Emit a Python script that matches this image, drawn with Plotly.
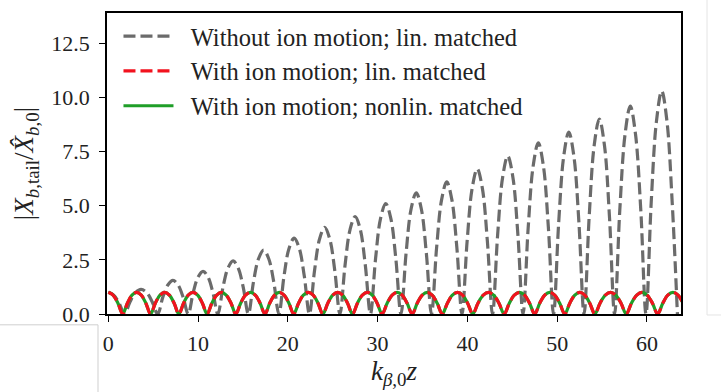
import plotly.graph_objects as go

# Tail centroid amplitude |X_b,tail / X_b,0| versus normalized propagation distance k_beta,0 z

# Without ion motion, linearly matched beam (growing oscillation)
gray_z = [0.0, 0.6, 1.2, 1.8,
          2.42, 3.03, 3.65, 4.27, 4.88, 5.5,
          6.07, 6.63, 7.2, 7.77, 8.33, 8.9,
          9.45, 10.0, 10.55, 11.1, 11.65, 12.2,
          12.77, 13.33, 13.9, 14.47, 15.03, 15.6,
          16.17, 16.73, 17.3, 17.87, 18.43, 19.0,
          19.57, 20.13, 20.7, 21.27, 21.83, 22.4,
          22.97, 23.53, 24.1, 24.67, 25.23, 25.8,
          26.37, 26.93, 27.5, 28.07, 28.63, 29.2,
          29.77, 30.33, 30.9, 31.47, 32.03, 32.6,
          33.17, 33.73, 34.3, 34.87, 35.43, 36.0,
          36.57, 37.13, 37.7, 38.27, 38.83, 39.4,
          39.97, 40.53, 41.1, 41.67, 42.23, 42.8,
          43.37, 43.93, 44.5, 45.07, 45.63, 46.2,
          46.77, 47.33, 47.9, 48.47, 49.03, 49.6,
          50.17, 50.73, 51.3, 51.87, 52.43, 53.0,
          53.57, 54.13, 54.7, 55.27, 55.83, 56.4,
          56.98, 57.57, 58.15, 58.73, 59.32, 59.9,
          60.48, 61.07, 61.65, 62.23, 62.82, 63.4]
gray_y = [1.0, 0.87, 0.5, 0.0,
          0.57, 0.99, 1.14, 0.99, 0.57, 0.0,
          0.78, 1.34, 1.55, 1.34, 0.78, 0.0,
          0.99, 1.71, 1.97, 1.71, 0.99, 0.0,
          1.23, 2.12, 2.45, 2.12, 1.23, 0.0,
          1.48, 2.55, 2.95, 2.55, 1.48, 0.0,
          1.75, 3.03, 3.5, 3.03, 1.75, 0.0,
          2.0, 3.46, 4.0, 3.46, 2.0, 0.0,
          2.25, 3.9, 4.5, 3.9, 2.25, 0.0,
          2.55, 4.42, 5.1, 4.42, 2.55, 0.0,
          2.8, 4.85, 5.6, 4.85, 2.8, 0.0,
          3.05, 5.28, 6.1, 5.28, 3.05, 0.0,
          3.35, 5.8, 6.7, 5.8, 3.35, 0.0,
          3.65, 6.32, 7.3, 6.32, 3.65, 0.0,
          3.95, 6.84, 7.9, 6.84, 3.95, 0.0,
          4.2, 7.27, 8.4, 7.27, 4.2, 0.0,
          4.5, 7.79, 9.0, 7.79, 4.5, 0.0,
          4.8, 8.31, 9.6, 8.31, 4.8, 0.0,
          5.15, 8.92, 10.3, 8.92, 5.15, 0.0]

# With ion motion (linearly and nonlinearly matched curves coincide)
ion_z = [0.0, 0.53, 1.07, 1.6,
         2.12, 2.63, 3.15, 3.67, 4.18, 4.7,
         5.23, 5.75, 6.28, 6.8, 7.33, 7.85,
         8.38, 8.9, 9.43, 9.95, 10.48, 11.0,
         11.53, 12.07, 12.6, 13.13, 13.67, 14.2,
         14.74, 15.28, 15.83, 16.37, 16.91, 17.45,
         17.98, 18.52, 19.05, 19.58, 20.12, 20.65,
         21.19, 21.73, 22.28, 22.82, 23.36, 23.9,
         24.45, 25.0, 25.55, 26.1, 26.65, 27.2,
         27.75, 28.3, 28.85, 29.4, 29.95, 30.5,
         31.06, 31.62, 32.18, 32.73, 33.29, 33.85,
         34.41, 34.97, 35.53, 36.08, 36.64, 37.2,
         37.77, 38.33, 38.9, 39.47, 40.03, 40.6,
         41.18, 41.77, 42.35, 42.93, 43.52, 44.1,
         44.67, 45.23, 45.8, 46.37, 46.93, 47.5,
         48.06, 48.62, 49.18, 49.73, 50.29, 50.85,
         51.41, 51.97, 52.53, 53.08, 53.64, 54.2,
         54.78, 55.37, 55.95, 56.53, 57.12, 57.7,
         58.28, 58.87, 59.45, 60.03, 60.62, 61.2,
         61.77, 62.33, 62.9, 63.47, 64.03, 64.6]
lin_y = [1.0, 0.87, 0.5, 0.0,
         0.5, 0.87, 1.0, 0.87, 0.5, 0.0,
         0.5, 0.87, 1.0, 0.87, 0.5, 0.0,
         0.5, 0.87, 1.0, 0.87, 0.5, 0.0,
         0.5, 0.87, 1.0, 0.87, 0.5, 0.0,
         0.5, 0.87, 1.0, 0.87, 0.5, 0.0,
         0.5, 0.87, 1.0, 0.87, 0.5, 0.0,
         0.5, 0.87, 1.0, 0.87, 0.5, 0.0,
         0.5, 0.87, 1.0, 0.87, 0.5, 0.0,
         0.5, 0.87, 1.0, 0.87, 0.5, 0.0,
         0.5, 0.87, 1.0, 0.87, 0.5, 0.0,
         0.5, 0.87, 1.0, 0.87, 0.5, 0.0,
         0.5, 0.87, 1.0, 0.87, 0.5, 0.0,
         0.5, 0.87, 1.0, 0.87, 0.5, 0.0,
         0.5, 0.87, 1.0, 0.87, 0.5, 0.0,
         0.5, 0.87, 1.0, 0.87, 0.5, 0.0,
         0.5, 0.87, 1.0, 0.87, 0.5, 0.0,
         0.5, 0.87, 1.0, 0.87, 0.5, 0.0,
         0.5, 0.87, 1.0, 0.87, 0.5, 0.0,
         0.5, 0.87, 1.0, 0.87, 0.5, 0.0]
nonlin_y = list(lin_y)

x_ticks = [0, 10, 20, 30, 40, 50, 60]
y_ticks = [0.0, 2.5, 5.0, 7.5, 10.0, 12.5]

labels = ["Without ion motion; lin. matched",
          "With ion motion; lin. matched",
          "With ion motion; nonlin. matched"]

W, H = 721, 392
ML, MR, MT, MB = 107, 40, 11, 75
FONT = "Liberation Serif"
FS = 22          # tick labels
FS_LEG = 24.5    # legend entries
FS_TITLE = 27    # axis titles
INK = "#222"
PAD = "\u00a0\u00a0"

fig = go.Figure()
fig.add_trace(go.Scatter(
    x=gray_z, y=gray_y, mode="lines", name=PAD + labels[0], legendrank=1,
    line=dict(color="#6b6b6b", width=3.2, dash="12px,5px", shape="spline")))
fig.add_trace(go.Scatter(
    x=ion_z, y=nonlin_y, mode="lines", name=PAD + labels[2], legendrank=3,
    line=dict(color="#1f9e28", width=3.2, shape="spline")))
fig.add_trace(go.Scatter(
    x=ion_z, y=lin_y, mode="lines", name=PAD + labels[1], legendrank=2,
    line=dict(color="#f2121e", width=3.2, dash="12px,5px", shape="spline")))

axis_common = dict(
    showline=True, linecolor="black", linewidth=1.6, mirror=True,
    ticks="outside", ticklen=6, tickwidth=1.4, tickcolor="black",
    showgrid=False, zeroline=False,
    tickfont=dict(family=FONT, size=FS, color=INK),
)

fig.update_xaxes(
    range=[-0.15, 63.8], tickvals=x_ticks, ticktext=[str(v) for v in x_ticks],
    ticklabelstandoff=3,
    title=dict(text="<i>k</i><sub><i>β</i>,0</sub><i>z</i>",
               font=dict(family=FONT, size=FS_TITLE, color=INK), standoff=6),
    **axis_common)
fig.update_yaxes(
    range=[0, 13.9], tickvals=y_ticks, ticktext=[f"{v:.1f}" for v in y_ticks],
    ticklabelstandoff=5,
    title=dict(text="|<i>X</i><sub><i>b</i>,tail</sub>/<i>X̂</i><sub><i>b</i>,0</sub>|",
               font=dict(family=FONT, size=FS_TITLE, color=INK), standoff=10),
    **axis_common)


def px_x(px):
    return (px - ML) / (W - ML - MR)


def px_y(py):
    return (H - MB - py) / (H - MT - MB)


# thin frame lines of the surrounding page
frame_lines = [
    (0, 328, 98, 328, "#cfcfcf"),
    (98, 328, 98, 400, "#cfcfcf"),
    (707, -5, 707, 318, "#e4e4e4"),
    (707, 318, 730, 318, "#e4e4e4"),
]
shapes = [dict(type="line", xref="paper", yref="paper",
               x0=px_x(a), y0=px_y(b), x1=px_x(c), y1=px_y(d),
               line=dict(color=col, width=1)) for a, b, c, d, col in frame_lines]

fig.update_layout(
    width=W, height=H,
    margin=dict(l=ML, r=MR, t=MT, b=MB),
    paper_bgcolor="white", plot_bgcolor="white",
    font=dict(family=FONT, size=FS, color=INK),
    showlegend=True,
    legend=dict(x=0.02, y=0.998, xanchor="left", yanchor="top",
                bgcolor="rgba(0,0,0,0)", borderwidth=0,
                font=dict(family=FONT, size=FS_LEG, color=INK),
                itemwidth=50, tracegroupgap=0),
    shapes=shapes,
)

fig.write_html("out.html")
